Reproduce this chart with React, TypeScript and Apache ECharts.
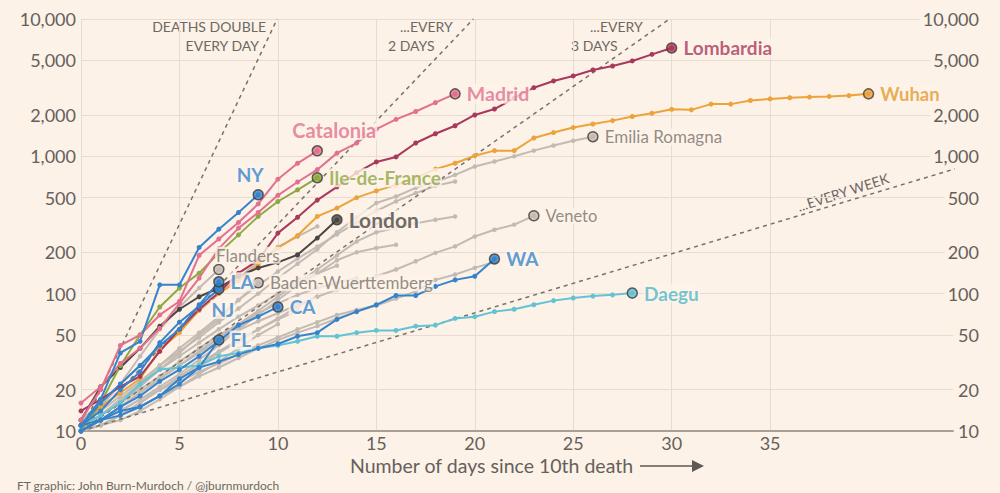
import React, { useEffect, useRef } from 'react';
import * as echarts from 'echarts';

// ---------- data (deaths by days since 10th death) ----------
const xTicks = [0, 5, 10, 15, 20, 25, 30, 35];
const yTicks = [10, 20, 50, 100, 200, 500, 1000, 2000, 5000, 10000];

const lombardia = [14, 17, 21, 25, 38, 55, 77, 102, 141, 175, 276, 360, 480, 600, 760, 910, 990, 1250, 1460, 1670, 2000, 2210, 2650, 3160, 3540, 3850, 4250, 4550, 4950, 5530, 6150];
const madrid = [16, 21, 31, 40, 56, 85, 130, 213, 300, 390, 520, 650, 800, 1055, 1250, 1580, 1860, 2120, 2460, 2850];
const catalonia = [12, 20, 42, 50, 70, 88, 190, 250, 330, 450, 682, 890, 1097];
const ileDeFrance = [10, 16, 30, 50, 80, 110, 141, 198, 268, 365, 469, 570, 698];
const wuhan = [11, 15, 19, 24, 39, 52, 76, 100, 125, 162, 215, 265, 365, 420, 500, 560, 620, 700, 807, 890, 1010, 1100, 1100, 1360, 1490, 1620, 1720, 1820, 1950, 2060, 2200, 2180, 2400, 2400, 2550, 2620, 2670, 2700, 2730, 2770, 2850];
const london = [12, 21, 29, 40, 58, 77, 95, 110, 134, 154, 169, 192, 254, 345];
const newYork = [11, 17, 37, 45, 116, 116, 217, 295, 390, 525];
const losAngeles = [11, 16, 22, 30, 42, 55, 83, 122];
const newJersey = [11, 14, 20, 27, 44, 62, 81, 108];
const california = [10, 12, 15, 18, 23, 28, 35, 45, 59, 68, 80];
const florida = [10, 12, 13, 15, 18, 22, 29, 46];
const washington = [11, 12, 14, 15, 18, 24, 29, 32, 36, 40, 43, 49, 52, 65, 74, 83, 97, 97, 113, 126, 134, 179];
const daegu = [11, 13, 16, 22, 28, 29, 30, 35, 37, 40, 42, 45, 49, 49, 52, 54, 54, 58, 59, 66, 68, 74, 77, 83, 89, 93, 96, 98, 101];
const emiliaRomagna = [11, 14, 18, 23, 30, 38, 48, 62, 78, 100, 130, 165, 210, 280, 360, 457, 510, 590, 650, 733, 843, 916, 1000, 1100, 1200, 1300, 1390];
const veneto = [10, 11, 13, 16, 20, 24, 30, 37, 45, 55, 66, 80, 95, 107, 120, 134, 150, 172, 198, 221, 261, 292, 318, 369];
const flanders = [10, 15, 22, 35, 55, 80, 110, 150];
const badenWuerttemberg = [10, 13, 16, 21, 28, 37, 50, 65, 90, 120];
const otherA = [10, 13, 17, 22, 30, 40, 52, 68, 90, 115, 145, 180, 220, 270, 330, 400, 470, 540, 610, 656];
const otherB = [10, 12, 15, 19, 24, 30, 38, 48, 60, 75, 95, 120, 150, 190, 240, 280, 300, 325, 345, 365];
const otherC = [10, 12, 14, 17, 21, 26, 33, 42, 55, 70, 90, 115, 140, 175, 200, 215, 227];
const otherD = [10, 11, 13, 15, 18, 21, 25, 29, 34, 40, 46, 52, 58, 66, 74, 82, 92, 104, 126, 138, 154, 170];
const otherE = [10, 12, 14, 17, 20, 23, 27, 31, 36, 42, 48, 55, 62, 70, 76, 82];
const otherF = [10, 13, 17, 22, 28, 35, 44, 55, 68, 82, 100, 120, 140, 160];
const otherG = [10, 12, 15, 19, 24, 30, 37, 45, 54, 63, 72, 83, 95];
const otherH = [10, 13, 16, 20, 25, 32, 40, 50, 60, 72, 85, 98, 110, 120, 130];
const otherI = [10, 11, 13, 16, 20, 25, 31, 38, 46, 55, 65, 75];
const otherJ = [10, 12, 15, 19, 24, 30, 38, 47, 57, 70];
const otherK = [10, 11, 12, 14, 17, 21, 26, 32, 40, 50, 60];
const otherL = [12, 16, 22, 30, 40, 55, 75, 100, 130, 170, 219, 260, 309];

// doubling-time guides (days for deaths to double)
const guideDoubling = [1, 2, 3, 7];

// ---------- styles ----------
const BG = '#fcf2e8';
const GRID = '#e7dcd1';
const AXIS_TXT = '#66605b';
const GRAY = '#c3bbb3';
const GRAY_TXT = '#77706b';
const C_LOMB = '#a9385a';
const C_PINK = '#e2708f';
const C_GREEN = '#8ea842';
const C_ORANGE = '#eba33a';
const C_DARK = '#4b4643';
const C_BLUE = '#3583cc';
const C_TEAL = '#63c3d3';
const FONT = 'Lato, "Open Sans", sans-serif';

const toData = (vals: number[]) => vals.map((v, i) => [i, v]);

const grayLines = [emiliaRomagna, veneto, flanders, badenWuerttemberg, otherA, otherB, otherC, otherD, otherE, otherF, otherG, otherH, otherI, otherJ, otherK, otherL];

const colored: { vals: number[]; color: string }[] = [
  { vals: daegu, color: C_TEAL },
  { vals: wuhan, color: C_ORANGE },
  { vals: london, color: C_DARK },
  { vals: ileDeFrance, color: C_GREEN },
  { vals: lombardia, color: C_LOMB },
  { vals: madrid, color: C_PINK },
  { vals: catalonia, color: C_PINK },
  { vals: washington, color: C_BLUE },
  { vals: florida, color: C_BLUE },
  { vals: california, color: C_BLUE },
  { vals: newJersey, color: C_BLUE },
  { vals: losAngeles, color: C_BLUE },
  { vals: newYork, color: C_BLUE },
];

type Lab = { name: string; vals: number[]; fill: string; text: string; size: number; bold: boolean; pos?: string; offset?: number[]; distance?: number };
const labels: Lab[] = [
  { name: 'Lombardia', vals: lombardia, fill: C_LOMB, text: C_LOMB, size: 19, bold: true },
  { name: 'Wuhan', vals: wuhan, fill: C_ORANGE, text: '#e39a2c', size: 18.5, bold: true },
  { name: 'Madrid', vals: madrid, fill: C_PINK, text: C_PINK, size: 19.5, bold: true },
  { name: 'Catalonia', vals: catalonia, fill: C_PINK, text: C_PINK, size: 20, bold: true, pos: 'top', offset: [17, 0] },
  { name: 'Emilia Romagna', vals: emiliaRomagna, fill: GRAY, text: GRAY_TXT, size: 17, bold: false },
  { name: 'NY', vals: newYork, fill: C_BLUE, text: C_BLUE, size: 19, bold: true, pos: 'top', offset: [-8, 0] },
  { name: 'Ile-de-France', vals: ileDeFrance, fill: C_GREEN, text: C_GREEN, size: 19, bold: true },
  { name: 'London', vals: london, fill: C_DARK, text: C_DARK, size: 21, bold: true },
  { name: 'Veneto', vals: veneto, fill: GRAY, text: GRAY_TXT, size: 16.5, bold: false },
  { name: 'Flanders', vals: flanders, fill: GRAY, text: GRAY_TXT, size: 17, bold: false, pos: 'top', offset: [29, 0], distance: 0 },
  { name: 'Baden-Wuerttemberg', vals: badenWuerttemberg, fill: GRAY, text: GRAY_TXT, size: 17, bold: false },
  { name: 'NJ', vals: newJersey, fill: C_BLUE, text: C_BLUE, size: 19, bold: true, pos: 'bottom', offset: [4, 0] },
  { name: 'LA', vals: losAngeles, fill: C_BLUE, text: C_BLUE, size: 19, bold: true },
  { name: 'CA', vals: california, fill: C_BLUE, text: C_BLUE, size: 19, bold: true },
  { name: 'FL', vals: florida, fill: C_BLUE, text: C_BLUE, size: 19, bold: true },
  { name: 'WA', vals: washington, fill: C_BLUE, text: C_BLUE, size: 19, bold: true },
  { name: 'Daegu', vals: daegu, fill: C_TEAL, text: '#4fb8c9', size: 19, bold: true },
];

const X_MAX = 44.29;
const fmt = (v: number) => Number(v).toLocaleString('en-US');

function buildOption(): any {
  const series: any[] = [];
  grayLines.forEach((vals) => {
    series.push({
      type: 'line', data: toData(vals), symbol: 'circle', symbolSize: 4.5, silent: true,
      lineStyle: { color: GRAY, width: 2 }, itemStyle: { color: GRAY }, z: 2,
    });
  });
  guideDoubling.forEach((d) => {
    const endX = Math.min(d * Math.log2(1000), 44.6);
    series.push({
      type: 'line', data: [[0, 10], [endX, 10 * Math.pow(2, endX / d)]], symbol: 'none', silent: true, clip: false,
      lineStyle: { color: '#78716b', width: 1.5, type: [4, 4] }, z: 3,
    });
  });
  colored.forEach((c) => {
    series.push({
      type: 'line', data: toData(c.vals), symbol: 'circle', symbolSize: 5, silent: true,
      lineStyle: { color: c.color, width: 2 }, itemStyle: { color: c.color }, z: 4,
    });
  });
  series.push({
    type: 'scatter', silent: true, z: 6, symbolSize: 10,
    data: labels.map((l) => ({
      value: [l.vals.length - 1, l.vals[l.vals.length - 1]],
      itemStyle: { color: l.fill, borderColor: '#3d3936', borderWidth: 1.5 },
      label: {
        show: true, formatter: l.name, position: l.pos || 'right', offset: l.offset || [0, 0],
        distance: l.distance !== undefined ? l.distance : 5,
        color: l.text, fontWeight: l.bold ? 'bold' : 'normal', fontSize: l.size,
        fontFamily: FONT, backgroundColor: BG, padding: [0, 1],
      },
    })),
  });

  const annot = (text: string, x: number, y: number, align: string) => ({
    type: 'text', x, y, silent: true,
    style: { text, fill: '#6e6863', font: `14px ${FONT}`, align, verticalAlign: 'middle' },
  });

  return {
    animation: false,
    backgroundColor: BG,
    textStyle: { fontFamily: FONT },
    grid: { left: 81, right: 47, top: 19, bottom: 62 },
    xAxis: {
      type: 'value', min: 0, max: X_MAX,
      axisLine: { show: true, lineStyle: { color: '#a8a098', width: 2 } },
      axisTick: { show: false, customValues: xTicks },
      axisLabel: { customValues: xTicks, color: AXIS_TXT, fontSize: 18, margin: 3, fontFamily: FONT },
      splitLine: { show: true, lineStyle: { color: GRID, width: 1 } },
    },
    yAxis: [
      {
        type: 'log', logBase: 10, min: 10, max: 10000, position: 'left',
        axisLine: { show: false }, axisTick: { show: false, customValues: yTicks },
        axisLabel: { customValues: yTicks, formatter: fmt, color: AXIS_TXT, fontSize: 18, margin: 5, fontFamily: FONT },
        splitLine: { show: true, lineStyle: { color: GRID, width: 1 } },
      },
      {
        type: 'log', logBase: 10, min: 10, max: 10000, position: 'right',
        axisLine: { show: false }, axisTick: { show: false, customValues: yTicks },
        axisLabel: {
          customValues: yTicks, formatter: fmt, color: AXIS_TXT, fontSize: 18, margin: 26, align: 'right',
          backgroundColor: BG, padding: [0, 0, 0, 3], fontFamily: FONT,
        },
        splitLine: { show: false },
      },
    ],
    series,
    graphic: [
      annot('DEATHS DOUBLE', 266, 26, 'right'),
      annot('EVERY DAY', 259, 45, 'right'),
      annot('...EVERY', 400, 26, 'left'),
      annot('2 DAYS', 388, 45, 'left'),
      annot('...EVERY', 590, 26, 'left'),
      annot('3 DAYS', 571, 45, 'left'),
      {
        type: 'text', x: 843, y: 192, rotation: 0.31, silent: true,
        style: { text: '...EVERY WEEK', fill: '#6e6863', font: `14px ${FONT}`, align: 'center', verticalAlign: 'middle' },
      },
      {
        type: 'text', x: 350, y: 465, silent: true,
        style: { text: 'Number of days since 10th death', fill: AXIS_TXT, font: `19.5px ${FONT}`, align: 'left', verticalAlign: 'middle' },
      },
      { type: 'line', silent: true, shape: { x1: 640, y1: 466, x2: 694, y2: 466 }, style: { stroke: '#5f5955', lineWidth: 1.5 } },
      { type: 'polygon', silent: true, shape: { points: [[692, 460], [704, 466], [692, 472]] }, style: { fill: '#5f5955' } },
      {
        type: 'text', x: 17, y: 479, silent: true,
        style: { text: 'FT graphic: John Burn-Murdoch / @jburnmurdoch', fill: '#6e6863', font: `12px ${FONT}`, align: 'left', verticalAlign: 'top' },
      },
    ],
  };
}

export default function App() {
  const ref = useRef<HTMLDivElement>(null);
  useEffect(() => {
    if (!ref.current) return;
    const chart = echarts.init(ref.current, null, { renderer: 'svg' });
    chart.setOption(buildOption());
    return () => chart.dispose();
  }, []);
  return (
    <div
      ref={ref}
      style={{ position: 'fixed', left: 0, top: 0, width: 1000, height: 493, background: BG }}
    />
  );
}
